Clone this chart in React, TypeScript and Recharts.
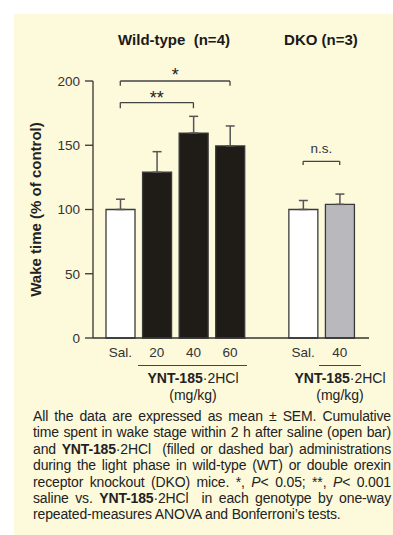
import { BarChart, Bar, XAxis, YAxis, ErrorBar, Cell, ReferenceLine } from "recharts";

// categories (one empty slot separates the two genotypes)
const groups = ["wsal", "w20", "w40", "w60", "gap", "dsal", "d40"];
const tickLabels = ["Sal.", "20", "40", "60", "", "Sal.", "40"];
// wake time, % of control, mean and SEM
const wake = [100, 129, 159.5, 149.5, null, 100, 104];
const sem = [8, 16, 13, 15.5, null, 7, 8];
const fills = ["#ffffff", "#1f1b17", "#1f1b17", "#1f1b17", "none", "#ffffff", "#b9b9bd"];
const yTicks = [0, 50, 100, 150, 200];

const data = groups.map((g, i) => ({
  group: g,
  wake: wake[i],
  err: sem[i] == null ? null : [0, sem[i]],
}));

const font = '"Liberation Sans", Arial, Helvetica, sans-serif';
const ink = "#333";

function Drug({ left }: { left: number }) {
  return (
    <div style={{ position: "absolute", left, top: 370, width: 120, textAlign: "center", fontSize: 14, lineHeight: "17px", color: "#222" }}>
      <div>
        <b>YNT-185</b>·2HCl
      </div>
      <div>(mg/kg)</div>
    </div>
  );
}

function Line({ children, last }: { children: React.ReactNode; last?: boolean }) {
  return (
    <div style={{ whiteSpace: "nowrap", textAlign: last ? "left" : "justify", textAlignLast: last ? "left" : "justify" }}>
      {children}
    </div>
  );
}

export default function App() {
  const bracket = { stroke: "#444", strokeWidth: 1.3, ifOverflow: "visible" as const };
  return (
    <div style={{ position: "absolute", left: 0, top: 0, width: 393, height: 535, background: "#fff", fontFamily: font, overflow: "hidden" }}>
      <div style={{ position: "absolute", left: 14, top: 14, right: 0, bottom: 0, background: "#fdf9db" }} />
      <div style={{ position: "absolute", left: 0, top: 0 }}>
        <BarChart width={393} height={400} data={data} margin={{ top: 81, right: 24, bottom: 32, left: 0 }} barSize={29}>
          <XAxis xAxisId="edge" type="number" domain={[0, 1]} ticks={[0, 1]} height={0} tick={false} axisLine={false} tickSize={7} tickLine={{ stroke: ink, strokeWidth: 1.3 }} />
          <XAxis
            dataKey="group"
            interval={0}
            padding={{ left: 9, right: 11 }}
            tickFormatter={(v: string) => tickLabels[groups.indexOf(v)]}
            tickLine={false}
            tickMargin={3}
            axisLine={{ stroke: ink, strokeWidth: 1.3 }}
            tick={{ fill: ink, fontSize: 13.5, fontFamily: font }}
          />
          <YAxis
            domain={[0, 200]}
            ticks={yTicks}
            width={93}
            tickSize={8}
            tickMargin={5}
            axisLine={{ stroke: ink, strokeWidth: 1.3 }}
            tickLine={{ stroke: ink, strokeWidth: 1.3 }}
            tick={{ fill: ink, fontSize: 13.5, fontFamily: font }}
            label={{ value: "Wake time (% of control)", angle: -90, position: "center", dx: -11, style: { fill: "#222", fontSize: 15, fontWeight: 700, fontFamily: font } }}
          />
          <Bar dataKey="wake" stroke="#3a3a3a" strokeWidth={1.3} isAnimationActive={false}>
            {data.map((d, i) => (
              <Cell key={d.group} fill={fills[i]} />
            ))}
            <ErrorBar dataKey="err" direction="y" width={4.5} stroke="#555" strokeWidth={1.5} isAnimationActive={false} />
          </Bar>
          {/* significance brackets */}
          <ReferenceLine {...bracket} segment={[{ x: "wsal", y: 200 }, { x: "w60", y: 200 }]} label={{ value: "*", position: "top", offset: 0, fill: "#222", fontSize: 18, fontFamily: font }} />
          <ReferenceLine {...bracket} segment={[{ x: "wsal", y: 196.4 }, { x: "wsal", y: 200 }]} />
          <ReferenceLine {...bracket} segment={[{ x: "w60", y: 196.4 }, { x: "w60", y: 200 }]} />
          <ReferenceLine {...bracket} segment={[{ x: "wsal", y: 183.2 }, { x: "w40", y: 183.2 }]} label={{ value: "**", position: "top", offset: -1, fill: "#222", fontSize: 18, fontFamily: font }} />
          <ReferenceLine {...bracket} segment={[{ x: "wsal", y: 178.8 }, { x: "wsal", y: 183.2 }]} />
          <ReferenceLine {...bracket} segment={[{ x: "w40", y: 178.8 }, { x: "w40", y: 183.2 }]} />
          <ReferenceLine {...bracket} segment={[{ x: "dsal", y: 137.5 }, { x: "d40", y: 137.5 }]} label={{ value: "n.s.", position: "top", offset: 8, fill: "#333", fontSize: 13.5, fontFamily: font }} />
          <ReferenceLine {...bracket} segment={[{ x: "dsal", y: 134.6 }, { x: "dsal", y: 137.5 }]} />
          <ReferenceLine {...bracket} segment={[{ x: "d40", y: 134.6 }, { x: "d40", y: 137.5 }]} />
        </BarChart>
      </div>

      <div style={{ position: "absolute", left: 114, top: 31, width: 120, textAlign: "center", fontSize: 15, fontWeight: 700, color: "#1a1a1a" }}>
        Wild-type&nbsp; (n=4)
      </div>
      <div style={{ position: "absolute", left: 261, top: 31, width: 120, textAlign: "center", fontSize: 15, fontWeight: 700, color: "#1a1a1a" }}>
        DKO (n=3)
      </div>

      <div style={{ position: "absolute", left: 138, top: 365, width: 109, borderTop: "1.3px solid #444" }} />
      <div style={{ position: "absolute", left: 319, top: 365, width: 42, borderTop: "1.3px solid #444" }} />
      <Drug left={133} />
      <Drug left={280} />

      <div style={{ position: "absolute", left: 33, top: 408, width: 358, fontSize: 14, lineHeight: "16.4px", color: "#222", letterSpacing: -0.15 }}>
        <Line>All the data are expressed as mean ± SEM. Cumulative</Line>
        <Line>time spent in wake stage within 2 h after saline (open bar)</Line>
        <Line>
          and <b>YNT-185</b>·2HCl&nbsp; (filled or dashed bar) administrations
        </Line>
        <Line>during the light phase in wild-type (WT) or double orexin</Line>
        <Line>
          receptor knockout (DKO) mice. *, <i>P</i>&lt; 0.05; **, <i>P</i>&lt; 0.001
        </Line>
        <Line>
          saline vs. <b>YNT-185</b>·2HCl&nbsp; in each genotype by one-way
        </Line>
        <Line last>repeated-measures ANOVA and Bonferroni’s tests.</Line>
      </div>
    </div>
  );
}
